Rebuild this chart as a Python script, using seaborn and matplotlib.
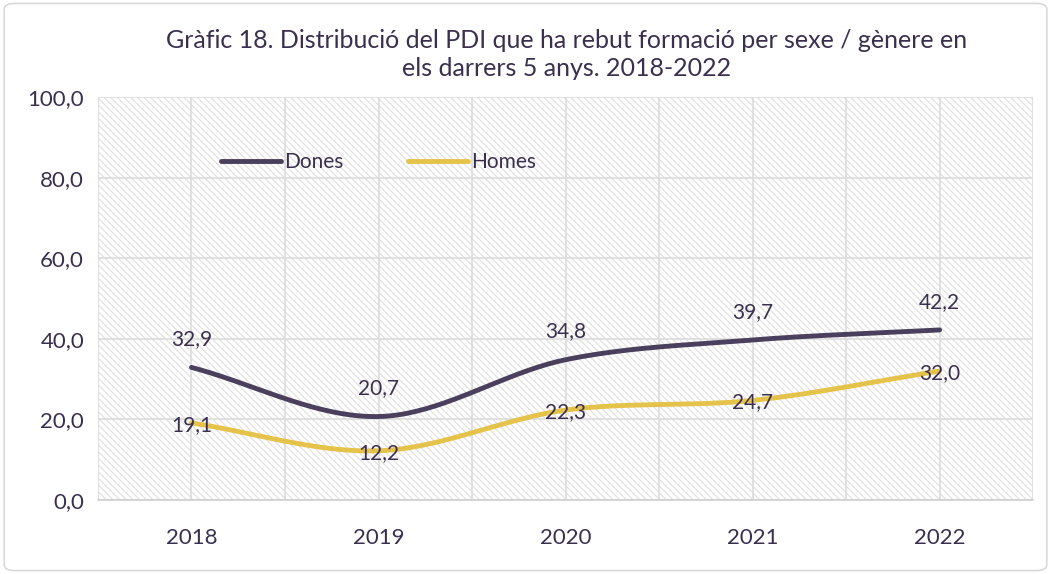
import numpy as np
import pandas as pd
import matplotlib.pyplot as plt
import seaborn as sns
from matplotlib.patches import FancyBboxPatch

# ==========================================
# Data
# ==========================================

years = ["2018", "2019", "2020", "2021", "2022"]
dones = [32.9, 20.7, 34.8, 39.7, 42.2]
homes = [19.1, 12.2, 22.3, 24.7, 32.0]

title = ("Gràfic 18. Distribució del PDI que ha rebut formació per sexe / gènere en\n"
         "els darrers 5 anys. 2018-2022")

c_dones = "#4a3f5c"
c_homes = "#e5c24a"
c_text = "#3b2f4f"


def smooth(xs, ys, n=40):
    # Catmull-Rom spline, like Excel smoothed lines
    xs = np.asarray(xs, float)
    ys = np.asarray(ys, float)
    px = np.concatenate([[2 * xs[0] - xs[1]], xs, [2 * xs[-1] - xs[-2]]])
    py = np.concatenate([[2 * ys[0] - ys[1]], ys, [2 * ys[-1] - ys[-2]]])
    outx, outy = [], []
    for i in range(1, len(px) - 2):
        t = np.linspace(0, 1, n)
        for p, out in ((px, outx), (py, outy)):
            p0, p1, p2, p3 = p[i - 1], p[i], p[i + 1], p[i + 2]
            out.extend(0.5 * ((2 * p1) + (-p0 + p2) * t
                              + (2 * p0 - 5 * p1 + 4 * p2 - p3) * t ** 2
                              + (-p0 + 3 * p1 - 3 * p2 + p3) * t ** 3))
    return np.array(outx), np.array(outy)


sns.set_theme(style="white")
plt.rcParams["font.family"] = ["Lato", "DejaVu Sans"]
plt.rcParams["hatch.linewidth"] = 0.9

fig = plt.figure(figsize=(10.51, 5.74), dpi=100)
ax = fig.add_axes([0.0932, 0.129, 0.8898, 0.702])

# hatched background
ax.add_patch(plt.Rectangle((0, 0), 1, 1, transform=ax.transAxes,
                           facecolor="white", edgecolor="#e2e2e2",
                           hatch="\\\\\\\\\\", linewidth=0, zorder=0))

x = np.arange(len(years))
series = [("Dones", dones, c_dones), ("Homes", homes, c_homes)]
rows = []
for name, vals, col in series:
    sx, sy = smooth(x, vals)
    for a, b in zip(sx, sy):
        rows.append({"x": a, "y": b, "serie": name})
df = pd.DataFrame(rows)

sns.lineplot(data=df, x="x", y="y", hue="serie", sort=False,
             palette={"Dones": c_dones, "Homes": c_homes},
             linewidth=3.5, ax=ax, zorder=3)

for i, v in enumerate(dones):
    ax.text(i, v + 7, f"{v:.1f}".replace(".", ","), ha="center", va="center",
            fontsize=15, color=c_text, zorder=4)
for i, v in enumerate(homes):
    ax.text(i, v - 0.5, f"{v:.1f}".replace(".", ","), ha="center", va="center",
            fontsize=15, color=c_text, zorder=4)

ax.set_xlim(-0.5, len(years) - 0.5)
ax.set_ylim(0, 100)
ax.set_xticks(x)
ax.set_xticklabels(years)
ax.set_xticks(np.arange(-0.5, len(years), 1.0), minor=True)
ax.set_yticks(np.arange(0, 101, 20))
ax.set_yticklabels([f"{v:.1f}".replace(".", ",") for v in np.arange(0, 101, 20)])
ax.grid(True, which="major", color="#dcdcdc", linewidth=1.2, zorder=1)
ax.grid(True, which="minor", axis="x", color="#dcdcdc", linewidth=1.2, zorder=1)
ax.set_axisbelow(True)
ax.tick_params(axis="both", which="both", length=0, labelsize=16,
               labelcolor=c_text)
ax.tick_params(axis="x", pad=20)
ax.tick_params(axis="y", pad=10)
ax.set_xlabel("")
ax.set_ylabel("")
for s in ["top", "right", "left"]:
    ax.spines[s].set_visible(False)
ax.spines["bottom"].set_color("#d0d0d0")
ax.spines["bottom"].set_linewidth(1.2)

leg = ax.legend(loc="upper left", bbox_to_anchor=(0.111, 0.91), ncol=2,
                frameon=False, fontsize=15, handlelength=2.9,
                columnspacing=3.1, handletextpad=0.15)
for t in leg.get_texts():
    t.set_color(c_text)

fig.text(0.539, 0.95, title, ha="center", va="top", fontsize=18,
         color=c_text, linespacing=1.3)

fig.patches.append(FancyBboxPatch((0.004, 0.006), 0.992, 0.988,
                                  boxstyle="round,pad=0,rounding_size=0.01",
                                  transform=fig.transFigure, fill=False,
                                  edgecolor="#d9d9d9", linewidth=1.2))

fig.savefig("out.png", dpi=100)
